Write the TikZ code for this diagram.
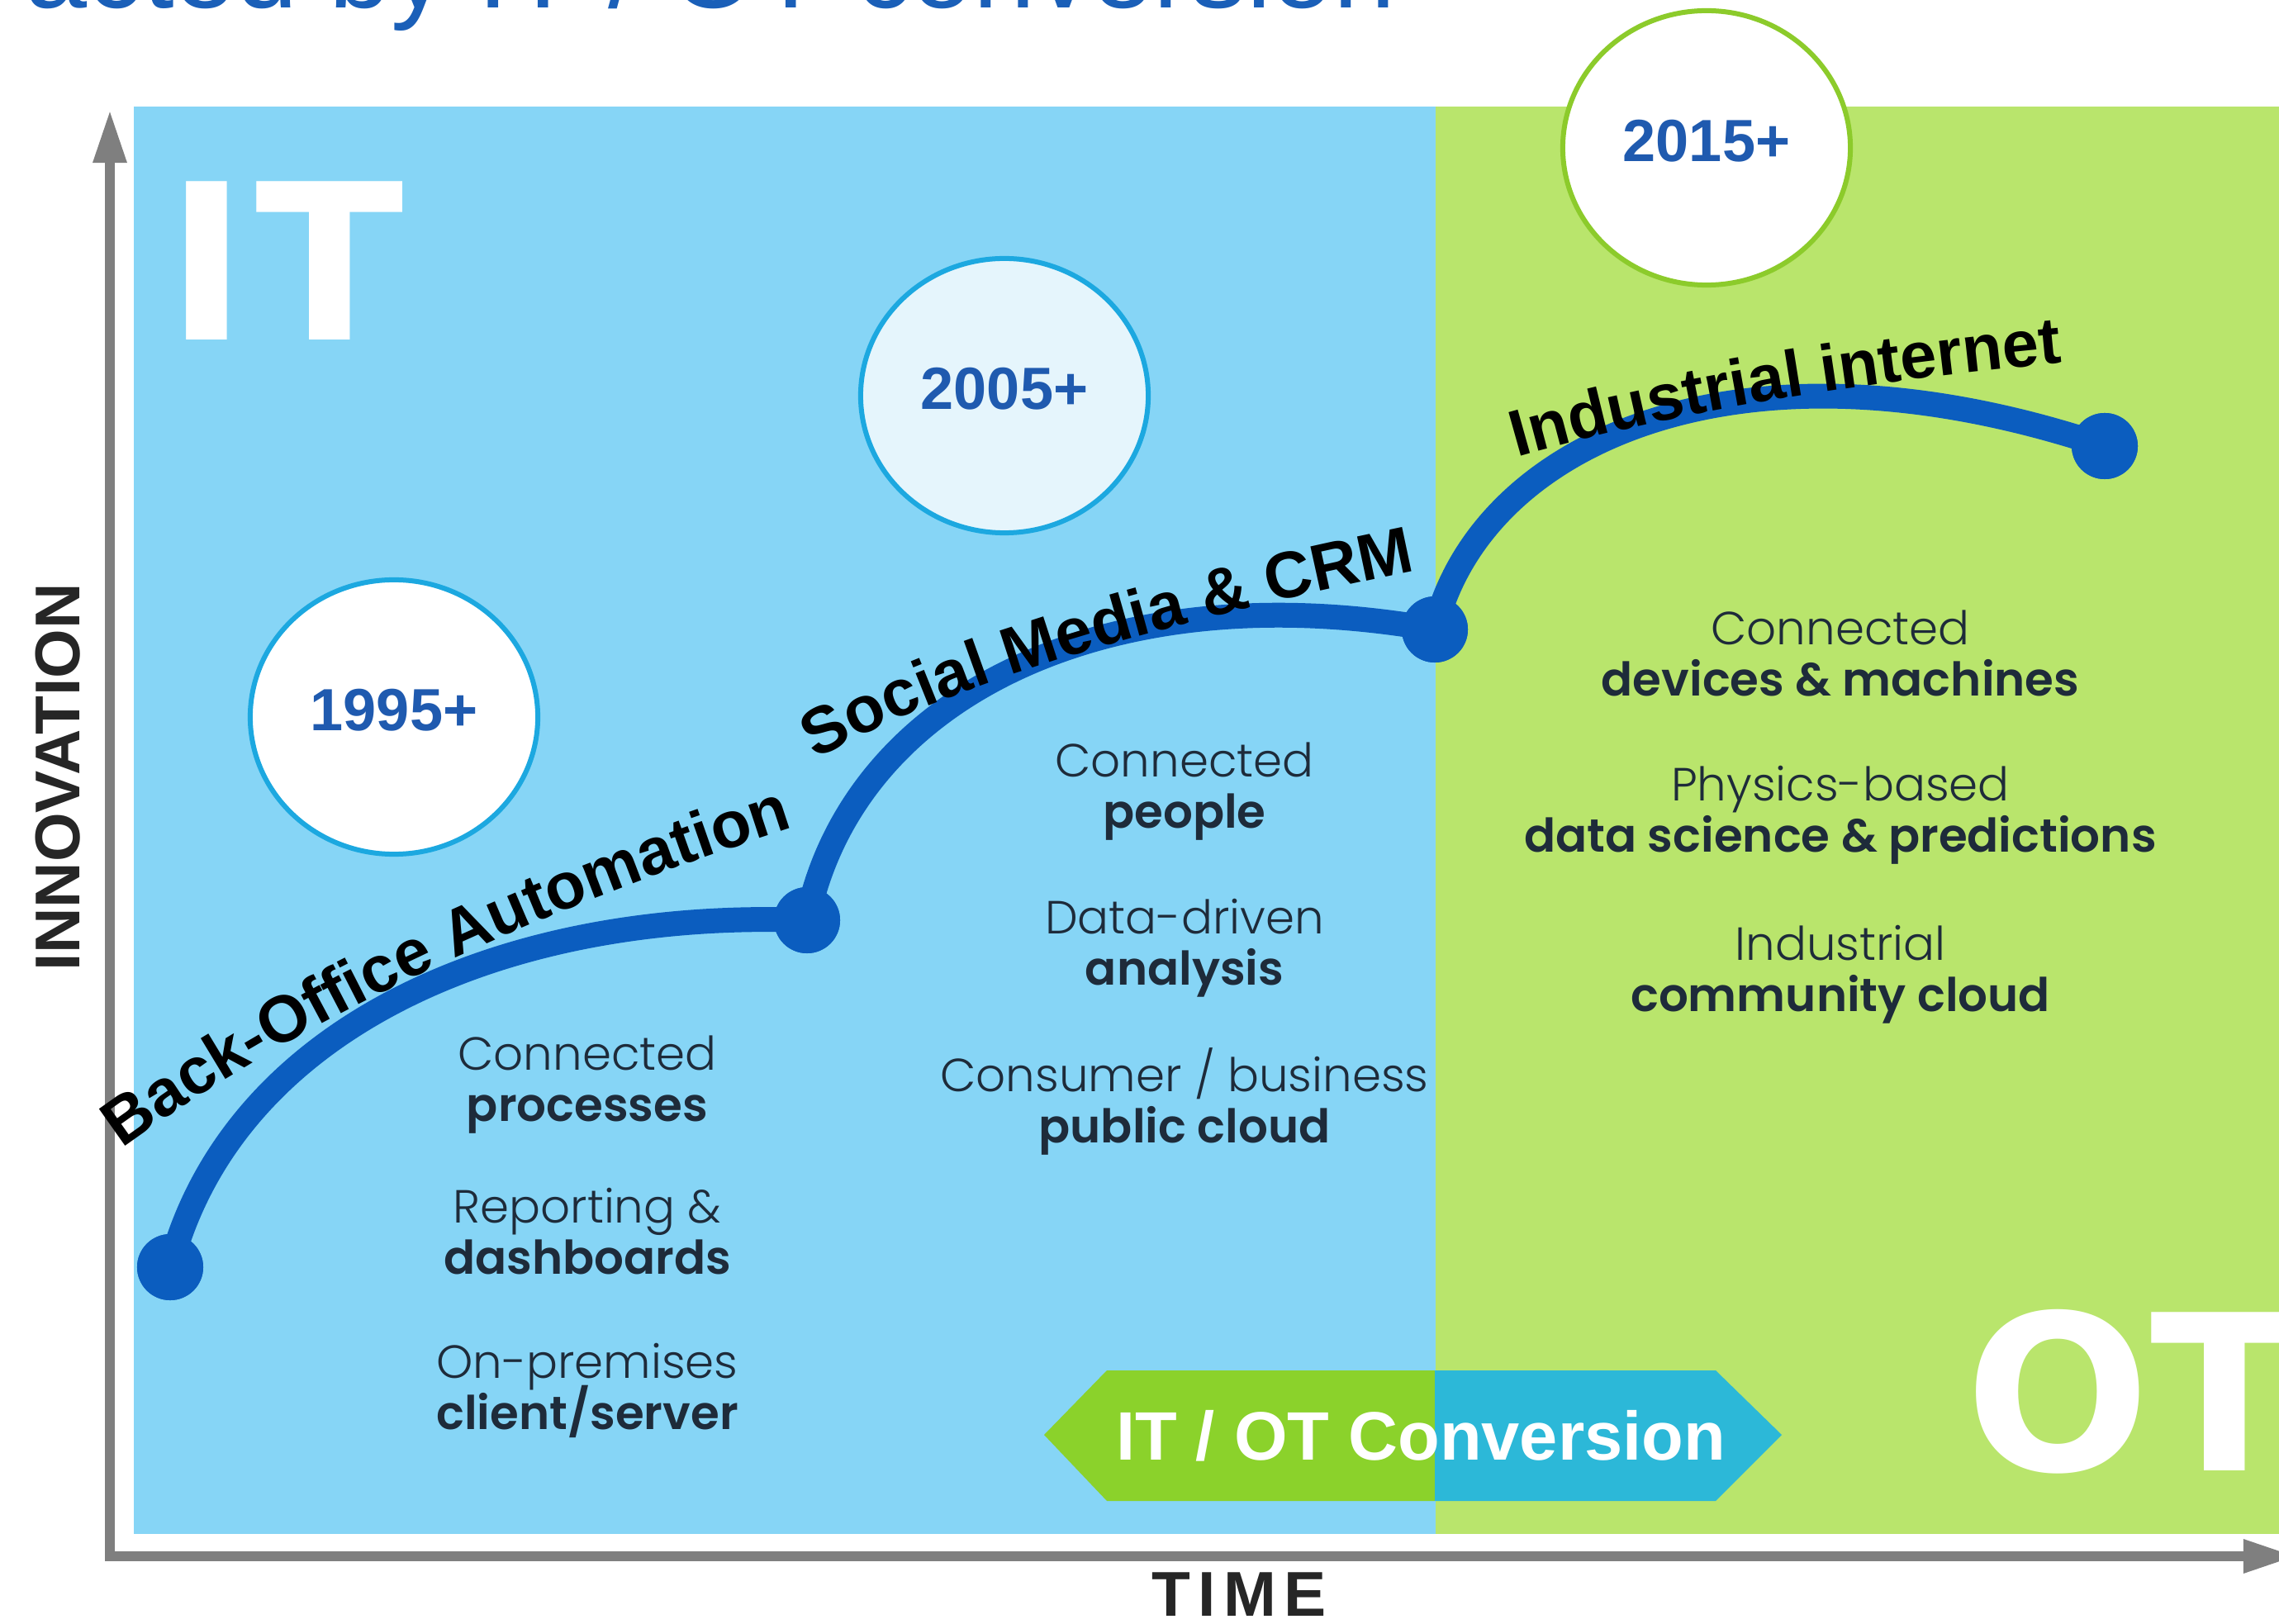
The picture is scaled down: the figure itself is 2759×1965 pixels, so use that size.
\documentclass[tikz,border=0pt]{standalone}
\usepackage{fontspec}
\setmainfont{Liberation Sans}
\newfontfamily\lsans{Liberation Sans}
\newfontfamily\djv{DejaVu Sans}
\newfontfamily\pop{Poppins}[UprightFont=* Light, BoldFont=* SemiBold]
\usetikzlibrary{arrows.meta,shapes.geometric,decorations.text}
\definecolor{itblue}{HTML}{86D5F6}
\definecolor{otgreen}{HTML}{B9E56C}
\definecolor{axisgray}{HTML}{7F7F7F}
\definecolor{curveblue}{HTML}{0B5DBF}
\definecolor{circcyan}{HTML}{1CA8E0}
\definecolor{circgreen}{HTML}{8CCB2B}
\definecolor{yearblue}{HTML}{1F5AAF}
\definecolor{bodytext}{HTML}{1E2B3A}
\definecolor{convgreen}{HTML}{8BD22B}
\definecolor{convteal}{HTML}{2CB8D8}
\definecolor{titleblue}{HTML}{1A5FB8}
\definecolor{lightfill}{HTML}{E5F5FC}
\newcommand\curvefont{\lsans\bfseries\fontsize{22.6pt}{26pt}\selectfont}
\begin{document}
\begin{tikzpicture}[x=0.01cm,y=0.01cm,
  axisline/.style={draw=axisgray, line width=0.12cm, line join=miter,
    {Triangle[length=0.64cm,width=0.38cm]}-{Triangle[length=0.64cm,width=0.38cm]}},
  yearcirc/.style={ellipse, minimum width=3.48cm, minimum height=3.32cm, line width=0.06cm, inner sep=0},
  yeartext/.style={font=\lsans\bfseries\fontsize{20.5pt}{24pt}\selectfont, text=yearblue, inner sep=0},
  curveline/.style={draw=curveblue, line width=0.3cm},
  dotnode/.style={circle, fill=curveblue, minimum size=0.8cm, inner sep=0},
  curvetext/.style={decorate, decoration={text along path, text align=center, text={|\curvefont|#1}}},
  bigletters/.style={font=\djv\bfseries\fontsize{74.8pt}{80pt}\selectfont, text=white, inner sep=0, anchor=base west},
  lightline/.style={font=\pop\fontsize{16pt}{19pt}\selectfont, text=bodytext, anchor=base, inner sep=0},
  boldline/.style={lightline, font=\pop\bfseries\fontsize{16pt}{19pt}\selectfont},
  convtext/.style={font=\lsans\bfseries\fontsize{23.6pt}{28pt}\selectfont, text=white, anchor=base, inner sep=0},
  axislabel/.style={font=\lsans\bfseries\fontsize{21.8pt}{25pt}\selectfont, text=black!85, inner sep=0},
  titletext/.style={font=\lsans\fontsize{38.4pt}{44pt}\selectfont, text=titleblue, inner sep=0, anchor=base west}
]
\useasboundingbox (0,0) rectangle (2759,1965);
\clip (0,0) rectangle (2759,1965);

% backgrounds
\fill[itblue] (162,108) rectangle (1738,1836);
\fill[otgreen] (1738,108) rectangle (2759,1836);

% title (cut off by the top edge)
\node[titletext] (title) at (30,1955) {acted by IT / OT conversion};

% axes
\coordinate (ytip) at (133,1832);
\coordinate (origin) at (133,81);
\coordinate (xtip) at (2780,81);
\draw[axisline] (ytip) -- (origin) -- (xtip);
\node[axislabel, rotate=90, anchor=base] (innov) at (97,1024) {INNOVATION};
\node[axislabel, anchor=base] (time) at (1500,9) {\addfontfeature{LetterSpace=12}TIME};

% big letters
\node[bigletters] (itlabel) at (201,1553) {\addfontfeature{LetterSpace=4}IT};
\node[bigletters] (otlabel) at (2379,185) {OT};

% year circles
\node[yearcirc, draw=circcyan, fill=white] (c1995) at (477,1097) {};
\node[yeartext] (t1995) at ([yshift=0.08cm]c1995.center) {1995+};
\node[yearcirc, draw=circcyan, fill=lightfill] (c2005) at (1216,1486) {};
\node[yeartext] (t2005) at ([yshift=0.08cm]c2005.center) {2005+};
\node[yearcirc, draw=circgreen, fill=white] (c2015) at (2066,1786) {};
\node[yeartext] (t2015) at ([yshift=0.08cm]c2015.center) {2015+};

% curve and dots
\node[dotnode] (d1) at (206,431) {};
\node[dotnode] (d2) at (977,851) {};
\node[dotnode] (d3) at (1737,1203) {};
\node[dotnode] (d4) at (2548,1425) {};
\draw[curveline] (d1.center) .. controls (280,715) and (600,865) .. (d2.center);
\draw[curveline] (d2.center) .. controls (1030,1115) and (1330,1275) .. (d3.center);
\draw[curveline] (d3.center) .. controls (1790,1425) and (2100,1575) .. (d4.center);
\fill[curveblue] (d1) circle (0.4cm);
\fill[curveblue] (d2) circle (0.4cm);
\fill[curveblue] (d3) circle (0.4cm);
\fill[curveblue] (d4) circle (0.4cm);

% labels along the curve
\path[curvetext={Back-Office Automation}] (90,530) .. controls (300,700) and (620,860) .. (1030,985);
\path[curvetext={Social Media {\&} CRM}] (955,1025) .. controls (1110,1125) and (1371,1205) .. (1752,1282);
\path[curvetext={Industrial internet}] (1790,1398) .. controls (2005,1465) and (2258,1505) .. (2545,1530);

% column 1
\node[lightline] (p1a) at (711,670) {Connected};
\node[boldline] (p1b) at (711,608) {processes};
\node[lightline] (p2a) at (711,485) {Reporting \&};
\node[boldline] (p2b) at (711,423) {dashboards};
\node[lightline] (p3a) at (711,297) {On-premises};
\node[boldline] (p3b) at (711,235) {client/server};
% column 2
\node[lightline] (q1a) at (1434,1024) {Connected};
\node[boldline] (q1b) at (1434,962) {people};
\node[lightline] (q2a) at (1434,834) {Data-driven};
\node[boldline] (q2b) at (1434,772) {analysis};
\node[lightline] (q3a) at (1434,644) {Consumer / business};
\node[boldline] (q3b) at (1434,582) {public cloud};
% column 3
\node[lightline] (r1a) at (2228,1184) {Connected};
\node[boldline] (r1b) at (2228,1122) {devices \& machines};
\node[lightline] (r2a) at (2228,995) {Physics-based};
\node[boldline] (r2b) at (2228,933) {data science \& predictions};
\node[lightline] (r3a) at (2228,803) {Industrial};
\node[boldline] (r3b) at (2228,741) {community cloud};

% IT / OT conversion arrow
\coordinate (cvL) at (1264,228);
\coordinate (cvTL) at (1340,306);
\coordinate (cvTM) at (1737,306);
\coordinate (cvBM) at (1737,148);
\coordinate (cvBL) at (1340,148);
\coordinate (cvTR) at (2077,306);
\coordinate (cvR) at (2157,228);
\coordinate (cvBR) at (2077,148);
\fill[convgreen] (cvL) -- (cvTL) -- (cvTM) -- (cvBM) -- (cvBL) -- cycle;
\fill[convteal] (cvTM) -- (cvTR) -- (cvR) -- (cvBR) -- (cvBM) -- cycle;
\node[convtext] (convlabel) at (1720,198) {IT / OT Conversion};
\end{tikzpicture}
\end{document}
